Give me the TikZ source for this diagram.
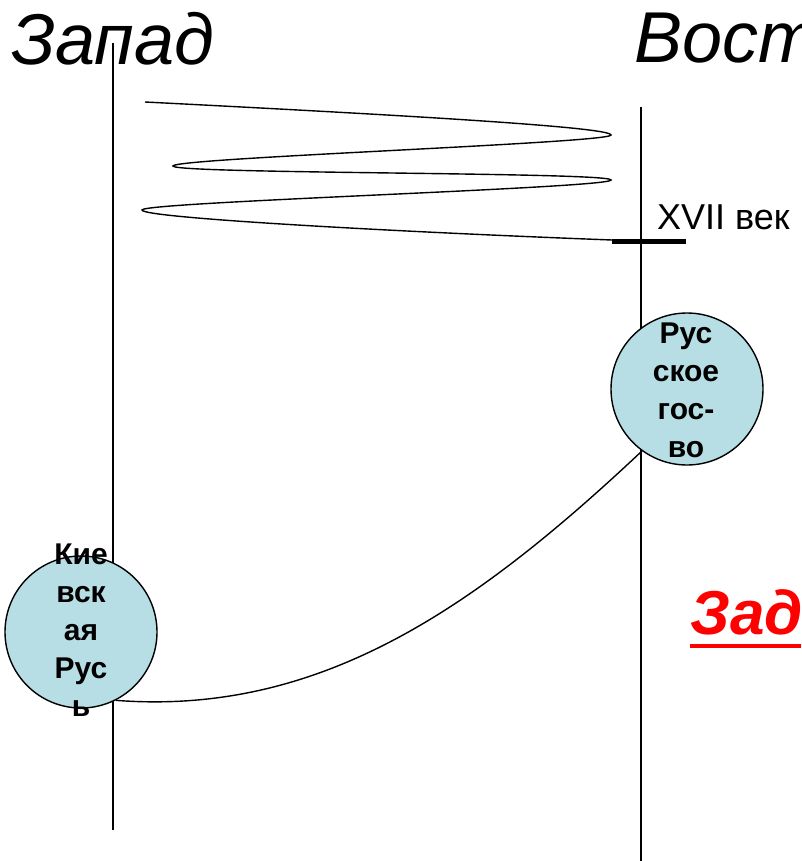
\documentclass[tikz,border=0pt]{standalone}
\usepackage{fontspec}
\setmainfont{Liberation Sans}
\usepackage{tikz}
\definecolor{circblue}{RGB}{183,222,228}
\tikzset{
	state/.style={circle, draw, line width=1.4pt, fill=circblue, minimum size=152pt, inner sep=0pt},
	statetext/.style={align=center, inner sep=0pt, font=\bfseries\fontsize{30}{38}\selectfont},
	heading/.style={anchor=base west, inner sep=0pt, font=\itshape\fontsize{72}{80}\selectfont}
}

\begin{document}
\begin{tikzpicture}[x=1pt, y=-1pt]
		\useasboundingbox (0,0) rectangle (801,861);
		\clip (0,0) rectangle (801,861);
		\node[heading] (west) at (11,65) {Запад};
		\node[heading] (east) at (634,63) {Вост};
		% time lines
		\draw [line width=1.8pt] (113,43) -- (113,830);
		\draw [line width=1.8pt] (641,107) -- (641,861);
		% zigzag
		\draw [line width=1.4pt] (145,102) .. controls (400,115) and (611,127) .. (611,135)
			.. controls (611,143) and (173,158) .. (173,166)
			.. controls (173,174) and (611,172) .. (611,180)
			.. controls (611,188) and (142,202) .. (142,210)
			.. controls (142,218) and (400,232) .. (612,240);
		\draw [line width=5pt] (612,241) -- (686,241);
		\node[anchor=base west, inner sep=0pt, font=\fontsize{36}{42}\selectfont] (century) at (657,229) {XVII век};
		
		\node[state] (rus) at (687,389) {};
		\node[state] (kiev) at (81,632) {};
		\node[statetext] (rustext) at (686,390) {Рус\\ское\\гос-\\во};
		\node[statetext] (kievtext) at (81,630.5) {Кие\\вск\\ая\\Рус\\ь};
		\draw [line width=1.4pt] (rus.234) .. controls (475,608) and (320,716) .. (kiev.297);
		
		\node[anchor=base west, inner sep=0pt, text=red, font=\bfseries\itshape\fontsize{62}{70}\selectfont] (task) at (690,634) {Зад};
		\coordinate (edge) at (801,646);
		\draw [red, line width=4.5pt] ([yshift=-12pt]task.base west) -- (edge);
	\end{tikzpicture}
\end{document}
